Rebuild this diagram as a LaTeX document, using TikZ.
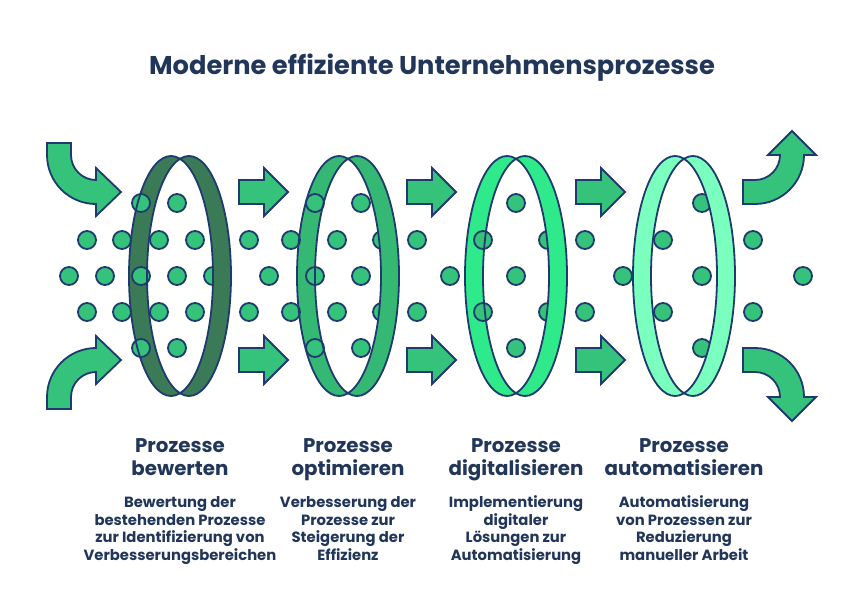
\documentclass[tikz,border=0pt]{standalone}
\usepackage{fontspec}
\setmainfont{Poppins}
\definecolor{navy}{HTML}{1E3A6E}
\definecolor{textnavy}{HTML}{213659}
\definecolor{leafgreen}{HTML}{35C27A}
\definecolor{ringa}{HTML}{3B7A57}
\definecolor{ringb}{HTML}{35B874}
\definecolor{ringc}{HTML}{2EEA8A}
\definecolor{ringd}{HTML}{7AFFBE}

\begin{document}
\begin{tikzpicture}
	[x=1pt, y=-1pt, line width=1.8pt,
	 arrowbody/.style = {draw=navy, fill=leafgreen},
	 dot/.style = {draw=navy, fill=leafgreen},
	 rimline/.style = {draw=navy},
	 title/.style = {font=\bfseries\fontsize{25.7}{30}\selectfont, text=textnavy},
	 head/.style = {font=\bfseries\fontsize{19.8}{22.5}\selectfont, text=textnavy, align=center, anchor=base},
	 desc/.style = {font=\bfseries\fontsize{14.8}{17.5}\selectfont, text=textnavy, align=center, anchor=base}]
	\useasboundingbox (0,0) rectangle (864,600);
	\node[title] (title) at (432,68) {Moderne effiziente Unternehmensprozesse};
	% band of each ring
	\foreach \m/\c in {180/ringa, 348/ringb, 516/ringc, 684/ringd}
		\fill[\c, even odd rule] (\m-9,276) ellipse[x radius=42, y radius=120]
			(\m+9,276) ellipse[x radius=42, y radius=120];
	% dots
	\foreach \x in {87,122,159,195,249,291,337,382,417,483,548,585,663,753} {
		\draw[dot] (\x,240) circle[radius=9];
		\draw[dot] (\x,312) circle[radius=9];
	}
	\foreach \x in {69,105,141,177,213,269,315,361,450,516,623,702,803}
		\draw[dot] (\x,276) circle[radius=9];
	\foreach \x in {141,177,315,361,516,702} {
		\draw[dot] (\x,203) circle[radius=9];
		\draw[dot] (\x,348) circle[radius=9];
	}
	% front rim over the dots
	\foreach \m/\c in {180/ringa, 348/ringb, 516/ringc, 684/ringd} {
		\begin{scope}
			\clip (\m+9,276) ellipse[x radius=42, y radius=120];
			\fill[\c, even odd rule] (\m+9,276) ellipse[x radius=42, y radius=120]
				(\m-9,276) ellipse[x radius=42, y radius=120];
		\end{scope}
		\draw[rimline] (\m-9,276) ellipse[x radius=42, y radius=120];
		\draw[rimline] (\m+9,276) ellipse[x radius=42, y radius=120];
	}
	% straight arrows
	\foreach \x in {239,407,576}
		\foreach \y in {192,360}
			\draw[arrowbody] (\x,\y-12) -- (\x+25,\y-12) -- (\x+25,\y-24) -- (\x+49,\y)
				-- (\x+25,\y+24) -- (\x+25,\y+12) -- (\x,\y+12) -- cycle;
	% curved arrows in
	\draw[arrowbody] (47,143) -- (71,143) -- (71,155) arc[start angle=180, end angle=90, radius=25]
		-- (96,168) -- (121,192) -- (96,216) -- (96,204)
		arc[start angle=90, end angle=180, radius=49] -- cycle;
	\draw[arrowbody] (47,409) -- (71,409) -- (71,397) arc[start angle=180, end angle=270, radius=25]
		-- (96,384) -- (121,360) -- (96,336) -- (96,348)
		arc[start angle=270, end angle=180, radius=49] -- cycle;
	% curved arrows out
	\draw[arrowbody] (743,180) -- (755,180) arc[start angle=90, end angle=0, radius=25]
		-- (768,155) -- (792,131) -- (816,155) -- (804,155)
		arc[start angle=0, end angle=90, radius=49] -- (743,204) -- cycle;
	\draw[arrowbody] (743,372) -- (755,372) arc[start angle=270, end angle=360, radius=25]
		-- (768,397) -- (792,421) -- (816,397) -- (804,397)
		arc[start angle=360, end angle=270, radius=49] -- (743,348) -- cycle;
	% labels (base = last line)
	\node[head] (head1) at (180,475) {Prozesse\\bewerten};
	\node[head] (head2) at (348,475) {Prozesse\\optimieren};
	\node[head] (head3) at (516,475) {Prozesse\\digitalisieren};
	\node[head] (head4) at (684,475) {Prozesse\\automatisieren};
	\node[desc] (desc1) at (180,560) {Bewertung der\\bestehenden Prozesse\\zur Identifizierung von\\Verbesserungsbereichen};
	\node[desc] (desc2) at (348,560) {Verbesserung der\\Prozesse zur\\Steigerung der\\Effizienz};
	\node[desc] (desc3) at (516,560) {Implementierung\\digitaler\\Lösungen zur\\Automatisierung};
	\node[desc] (desc4) at (684,560) {Automatisierung\\von Prozessen zur\\Reduzierung\\manueller Arbeit};
\end{tikzpicture}
\end{document}
